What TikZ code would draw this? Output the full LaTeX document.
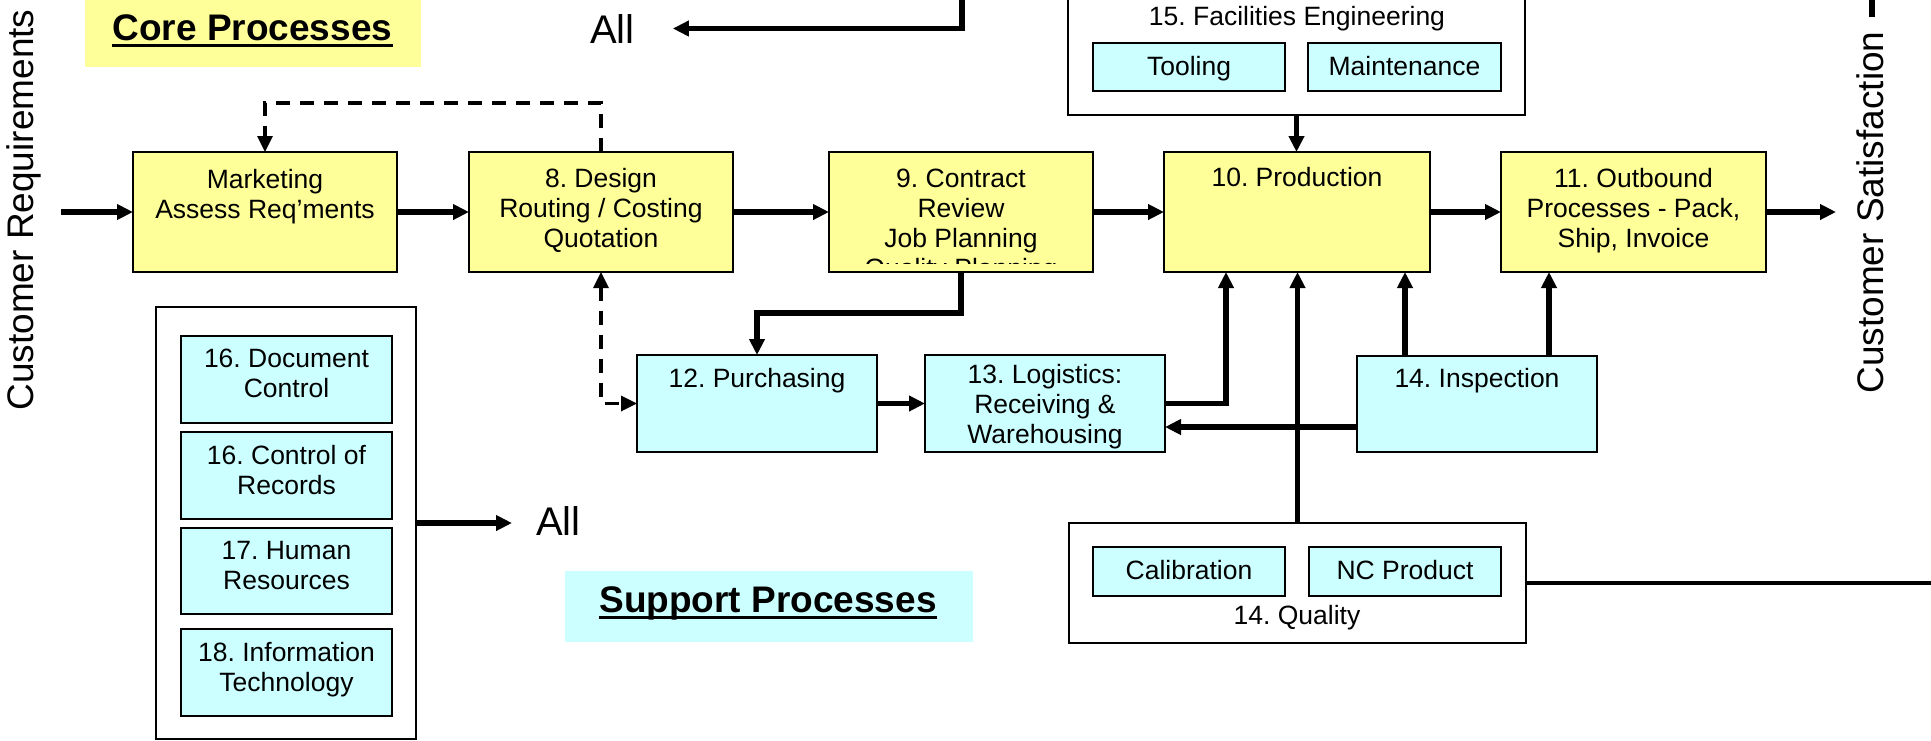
\documentclass[tikz,border=0pt]{standalone}
\usepackage{fontspec}
\setmainfont{Liberation Sans}
\usetikzlibrary{arrows.meta}
\definecolor{coreyellow}{HTML}{FFFF99}
\definecolor{supcyan}{HTML}{CCFFFF}
% fixed height for the first line of a box label, so baselines are predictable
\newcommand\firstln{\rule{0pt}{22pt}}
\frenchspacing

\begin{document}
\begin{tikzpicture}[x=1pt,y=-1pt,
  >={Triangle[length=16pt,width=15pt]},
  box/.style={draw=black, line width=2pt, inner sep=0pt, outer sep=0pt, rectangle},
  corebox/.style={box, fill=coreyellow, minimum width=264pt, minimum height=120pt},
  supbox/.style={box, fill=supcyan},
  frame/.style={box, fill=white},
  lbl/.style={anchor=north, inner sep=0pt, align=center, font=\fontsize{26.5}{30}\selectfont},
  big/.style={inner sep=0pt, font=\fontsize{37}{44}\selectfont},
  allfont/.style={inner sep=0pt, font=\fontsize{40}{46}\selectfont},
  head/.style={inner sep=0pt, font=\bfseries\fontsize{37}{44}\selectfont},
  flow/.style={line width=5.5pt, ->},
  feedback/.style={line width=3.3pt, dash pattern=on 14pt off 10pt},
]
\path[fill=white, use as bounding box] (0,0) rectangle (1931,740);
\clip (0,0) rectangle (1931,740);

% ---- headings ----
\node[fill=coreyellow, inner sep=0pt, minimum width=336pt, minimum height=81pt] (coreBg) at (253,26.5) {};
\node[head, anchor=base] (coreT) at (252.5,40) {Core Processes};
\draw[line width=3.5pt] ([yshift=-5.5pt]coreT.base west) -- ([yshift=-5.5pt]coreT.base east);

\node[fill=supcyan, inner sep=0pt, minimum width=408pt, minimum height=71pt] (supBg) at (769,606.5) {};
\node[head, anchor=base] (supT) at (768,612) {Support Processes};
\draw[line width=3.5pt] ([yshift=-5.5pt]supT.base west) -- ([yshift=-5.5pt]supT.base east);

% ---- side texts ----
\node[big, rotate=90, anchor=base] (custReq) at (34,210) {Customer Requirements};
\node[big, rotate=90, anchor=base] (custSat) at (1883,212.5) {Customer Satisfaction};

% ---- core process chain ----
\node[corebox] (mkt) at (265,212) {};
\node[corebox] (des) at (601,212) {};
\node[corebox] (con) at (961,212) {};
\node[corebox, minimum width=266pt] (prod) at (1297,212) {};
\node[corebox, minimum width=265pt] (out) at (1633.5,212) {};

\node[lbl] (mktT) at ([yshift=-14pt]mkt.north) {\firstln Marketing\\Assess Req'ments};
\node[lbl] (desT) at ([yshift=-13pt]des.north) {\firstln 8. Design\\Routing / Costing\\Quotation};
\begin{scope}
  \clip (829,152) rectangle (1093,263);
  \node[lbl] (conT) at ([yshift=-13pt]con.north) {\firstln 9. Contract\\Review\\Job Planning\\Quality Planning};
\end{scope}
\node[lbl] (prodT) at ([yshift=-12pt]prod.north) {\firstln 10. Production};
\node[lbl] (outT) at ([yshift=-13pt]out.north) {\firstln 11. Outbound\\Processes - Pack,\\Ship, Invoice};

% ---- supporting boxes on the flow ----
\node[supbox, minimum width=240pt, minimum height=97pt] (pur) at (757,403.5) {};
\node[supbox, minimum width=240pt, minimum height=97pt] (log) at (1045,403.5) {};
\node[supbox, minimum width=240pt, minimum height=96pt] (insp) at (1477,404) {};
\node[lbl] (purT) at ([yshift=-10pt]pur.north) {\firstln 12. Purchasing};
\node[lbl] (logT) at ([yshift=-6pt]log.north) {\firstln 13. Logistics:\\Receiving \&\\Warehousing};
\node[lbl] (inspT) at ([yshift=-9pt]insp.north) {\firstln 14. Inspection};

% ---- facilities engineering ----
\node[frame, minimum width=457pt, minimum height=145pt] (fac) at (1296.5,42.5) {};
\node[lbl, anchor=base] (facT) at (1297,25) {15. Facilities Engineering};
\node[supbox, minimum width=192pt, minimum height=48pt] (tool) at (1189,67) {};
\node[supbox, minimum width=193pt, minimum height=48pt] (maint) at (1404.5,67) {};
\node[lbl] (toolT) at ([yshift=-10pt]tool.north) {\firstln Tooling};
\node[lbl] (maintT) at ([yshift=-10pt]maint.north) {\firstln Maintenance};

% ---- quality ----
\node[frame, minimum width=457pt, minimum height=120pt] (qual) at (1297.5,583) {};
\node[supbox, minimum width=192pt, minimum height=49pt] (cal) at (1189,571.5) {};
\node[supbox, minimum width=192pt, minimum height=49pt] (ncp) at (1405,571.5) {};
\node[lbl] (calT) at ([yshift=-10pt]cal.north) {\firstln Calibration};
\node[lbl] (ncpT) at ([yshift=-10pt]ncp.north) {\firstln NC Product};
\node[lbl, anchor=base] (qualT) at (1297,624) {14. Quality};

% ---- support processes column ----
\node[frame, minimum width=260pt, minimum height=432pt] (sup) at (286,523) {};
\node[supbox, minimum width=211pt, minimum height=87pt] (doc) at (286.5,379.5) {};
\node[supbox, minimum width=211pt, minimum height=87pt] (rec) at (286.5,475.5) {};
\node[supbox, minimum width=211pt, minimum height=86pt] (hr) at (286.5,571) {};
\node[supbox, minimum width=211pt, minimum height=87pt] (it) at (286.5,672.5) {};
\node[lbl] (docT) at ([yshift=-9pt]doc.north) {\firstln 16. Document\\Control};
\node[lbl] (recT) at ([yshift=-10pt]rec.north) {\firstln 16. Control of\\Records};
\node[lbl] (hrT) at ([yshift=-9pt]hr.north) {\firstln 17. Human\\Resources};
\node[lbl] (itT) at ([yshift=-10pt]it.north) {\firstln 18. Information\\Technology};

% ---- "All" targets ----
\node[allfont, anchor=base west] (allTop) at (590,43) {All};
\node[allfont, anchor=base west] (allSup) at (536,535) {All};

% ---- connectors ----
\coordinate (crIn) at (61,212);
\coordinate (csOut) at (1836,212);
\draw[flow] (crIn) -- (mkt.west);
\draw[flow] (mkt) -- (des);
\draw[flow] (des) -- (con);
\draw[flow] (con) -- (prod);
\draw[flow] (prod) -- (out);
\draw[flow] (out) -- (csOut);

% design feedback loops
\coordinate (fbTop) at (0,103);
\draw[feedback, ->] (des.north) -- (des.north |- fbTop) -- (mkt.north |- fbTop) -- (mkt.north);
\draw[feedback, <->] (des.south) |- (pur.west);

% contract review to purchasing, then through logistics
\draw[flow] (con.south) -- ++(0,41) -| (pur.north);
\draw[flow] (pur) -- (log);
\coordinate (lpX) at (1226,0);
\draw[flow] (log.east) -| (prod.south -| lpX);
\coordinate (iy) at (0,427);
\draw[flow] (insp.west |- iy) -- (log.east |- iy);

% quality, inspection and facilities into production / outbound
\draw[flow] (qual.north) -- (qual.north |- prod.south);
\draw[flow] ([xshift=-72pt]insp.north) -- ([xshift=-72pt]insp.north |- prod.south);
\draw[flow] ([xshift=72pt]insp.north) -- ([xshift=72pt]insp.north |- out.south);
\draw[flow] (fac.south) -- (fac.south |- prod.north);
\coordinate (qRight) at (1940,583);
\draw[line width=3.5pt] (qual.east) -- (qRight);

% lines to "All"
\coordinate (topIn) at (962,-10);
\draw[flow] (topIn) |- ([xshift=38pt]allTop.east);
\draw[flow] (sup.east) -- ([xshift=-24pt]allSup.west |- sup.east);

% stub above the satisfaction label
\coordinate (csA) at (1872,-5);
\coordinate (csB) at (1872,17);
\draw[line width=6.5pt] (csA) -- (csB);
\end{tikzpicture}
\end{document}
